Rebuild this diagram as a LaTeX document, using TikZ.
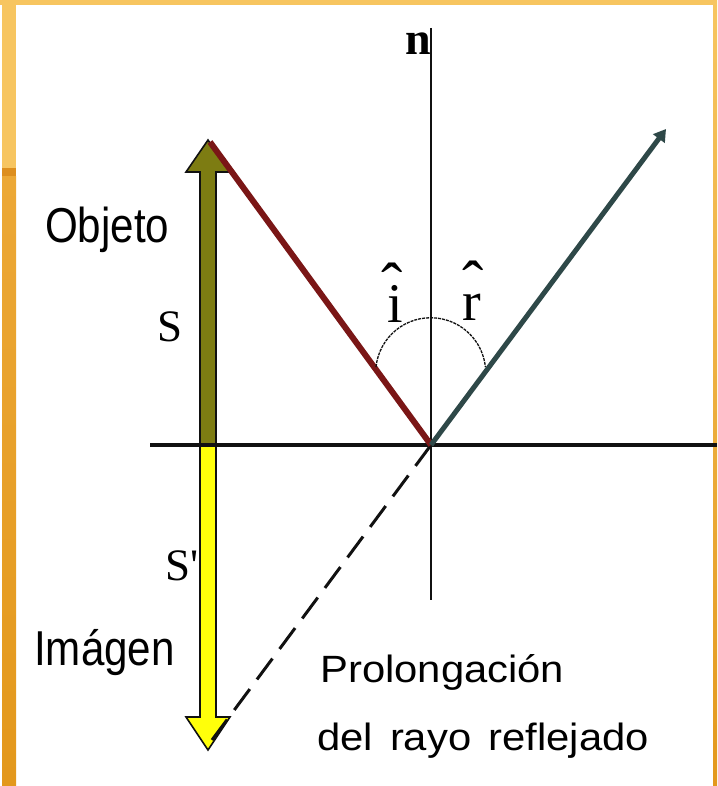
\documentclass[tikz,border=0pt]{standalone}
\usepackage{fontspec}
\setmainfont{Liberation Sans}
\newfontfamily\serifface{Liberation Serif}
\newfontfamily\narrowsans[FakeStretch=0.86]{Liberation Sans}
\newfontfamily\widesans[FakeStretch=1.1]{Liberation Sans}
\usepackage{tikz}
\usetikzlibrary{positioning, arrows.meta, calc}
\definecolor{framelight}{HTML}{F7C560}
\definecolor{framemid}{HTML}{ECA836}
\definecolor{framedark}{HTML}{E3981C}
\definecolor{frameline}{HTML}{DD8E1E}
\definecolor{objfill}{HTML}{7D7C12}
\definecolor{imgfill}{HTML}{FFFF0A}
\definecolor{incident}{HTML}{7A1616}
\definecolor{reflected}{HTML}{2E4848}
\definecolor{ink}{HTML}{111111}
\tikzset{
  mirror/.style   = {line width=4pt, draw=ink},
  normal/.style   = {line width=1.4pt, draw=ink},
  bigarrow/.style = {draw=ink, line width=1.6pt, line join=miter},
  incray/.style   = {line width=6pt, draw=incident},
  refray/.style   = {line width=5pt, draw=reflected,
                    -{Triangle[length=12pt,width=14pt]}},
  ext/.style      = {line width=3pt, draw=ink, dash pattern=on 26pt off 12pt},
  angarc/.style   = {line width=1.3pt, draw=ink, dash pattern=on 3pt off 1pt},
  lbl/.style      = {font=\narrowsans\fontsize{49}{52}\selectfont, inner sep=0pt},
  txt/.style      = {font=\widesans\fontsize{38}{42}\selectfont, inner sep=0pt},
  sym/.style      = {font=\serifface\fontsize{45}{48}\selectfont, inner sep=0pt},
  angsym/.style   = {font=\serifface\fontsize{56}{60}\selectfont, inner sep=0pt},
}
\newcommand{\hatover}[1]{\rlap{\hspace{#1}\raisebox{15pt}{\fontsize{64}{66}\selectfont ˆ}}}

\begin{document}
\begin{tikzpicture}[x=1pt, y=-1pt]
  \useasboundingbox (0,0) rectangle (717,786);

  % ----- slide frame -----
  \fill[framelight] (0,0) rectangle (717,5);
  \fill[framelight] (2,0) rectangle (16,168);
  \fill[frameline] (2,168) rectangle (16,177);
  \shade[top color=framemid, bottom color=framedark] (2,177) rectangle (16,786);
  \shade[top color=framelight, bottom color=framedark] (713,0) rectangle (717,786);

  % ----- points -----
  \coordinate (O) at (431,445);
  \coordinate (mirL) at (150,445);
  \coordinate (mirR) at (717,445);
  \coordinate (nTop) at (431,28);
  \coordinate (nBot) at (431,600);
  \coordinate (objTip) at (210,142);
  \coordinate (refEnd) at (666,129);
  \coordinate (extEnd) at (212,740);
  \coordinate (arcL) at (376,367);

  % ----- normal -----
  \draw[normal] (nTop) -- (nBot);
  \node[sym, font=\serifface\bfseries\fontsize{46}{48}\selectfont, anchor=base]
       (nlbl) at (418,55) {n};

  % ----- object and image -----
  \draw[bigarrow, fill=objfill] (200,445) -- (200,172) -- (186,172) -- (208,140)
       -- (230,172) -- (216,172) -- (216,445) -- cycle;
  \draw[bigarrow, fill=imgfill] (200,445) -- (200,717) -- (186,717) -- (208,750)
       -- (230,717) -- (216,717) -- (216,445) -- cycle;

  % ----- mirror and rays -----
  \draw[mirror] (mirL) -- (mirR);
  \draw[ext] (O) -- (extEnd);
  \draw[incray] (objTip) -- (O);
  \draw[refray] (O) -- (refEnd);
  \draw[angarc] (arcL) arc[start angle=-174, end angle=-6, radius=55];

  % ----- angle labels -----
  \node[angsym, anchor=base] (ilbl) at (395,322) {\hatover{-5.5pt}i};
  \node[angsym, anchor=base] (rlbl) at (472,320) {\hatover{0pt}r};

  % ----- labels -----
  \node[lbl, anchor=base west] (objeto) at (45,242) {Objeto};
  \node[sym, anchor=base] (slbl) at (170,341) {S};
  \node[sym, anchor=base west] (sprime) at (165,580) {S'};
  \node[lbl, anchor=base west] (imagen) at (34,665) {Imágen};
  \node[txt, anchor=base west] (prolong) at (320,682) {Prolongación};
  \node[txt, anchor=base west] (delrayo) at ($(prolong.base west)+(-3,68)$)
       {\spaceskip=0.45em del rayo reflejado};

\end{tikzpicture}
\end{document}
